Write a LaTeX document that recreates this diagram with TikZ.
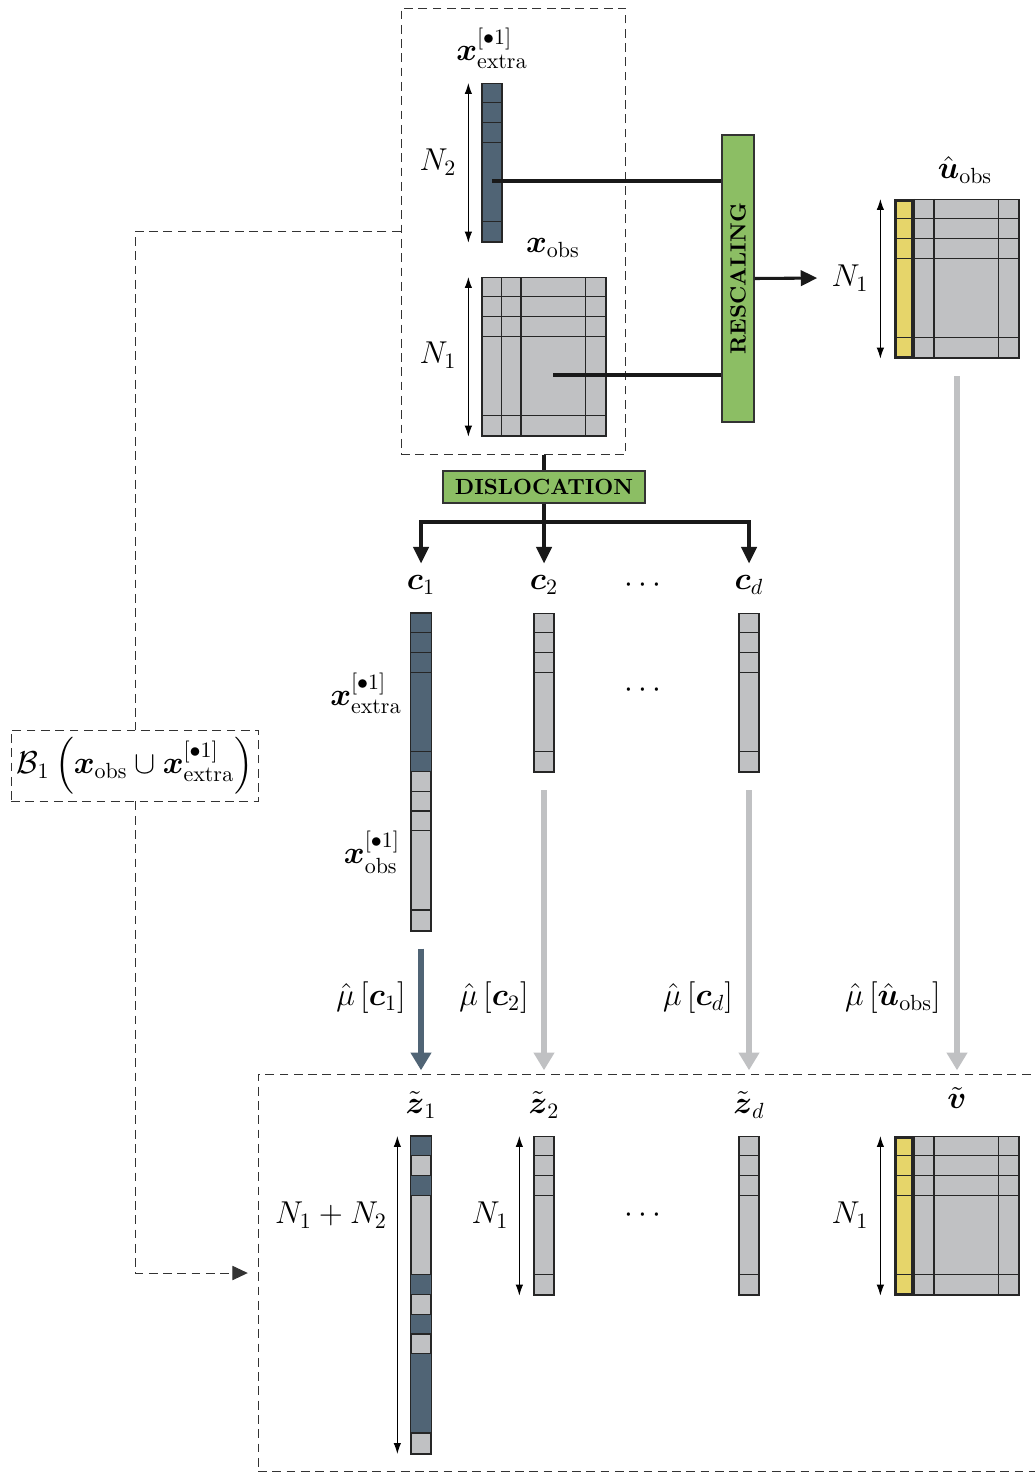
\documentclass[tikz,border=0pt]{standalone}
\usepackage{tikz}
\usepackage{xcolor}
\usepackage{amsmath}
\usetikzlibrary{arrows.meta}
\usetikzlibrary{calc}

\definecolor{slate}{RGB}{80,100,117}
\definecolor{cellgray}{RGB}{192,193,195}
\definecolor{leafgreen}{RGB}{140,190,100}
\definecolor{mustard}{RGB}{230,213,106}

\tikzset{
  every node/.style={font=\Large},
  dashbox/.style={draw=black!80, dash pattern=on 4pt off 2.5pt, line width=0.45pt, inner sep=0pt},
  dashline/.style={black!80, dash pattern=on 4pt off 2.5pt, line width=0.45pt},
  colvec/.style={draw=black!85, fill=cellgray, line width=0.6pt, inner sep=0pt,
                 minimum width=0.32cm, minimum height=2.5344cm, anchor=north},
  longvec/.style={colvec, minimum height=5.0688cm},
  gridbox/.style={colvec, minimum width=1.984cm},
  gridline/.style={black!85, line width=0.6pt},
  dimarrow/.style={{Latex[length=5pt,width=3.4pt]}-{Latex[length=5pt,width=3.4pt]}, line width=0.45pt},
  feed/.style={black!90, line width=1.4pt},
  feedarrow/.style={feed, -{Triangle[length=7.5pt,width=7pt]}, shorten >=2pt},
  pushgray/.style={cellgray, line width=2.3pt, -{Triangle[length=8pt,width=9pt]}, shorten <=8pt, shorten >=1.5pt},
  pushslate/.style={pushgray, slate},
  stage/.style={draw=black!80, fill=leafgreen, line width=0.6pt, inner sep=0pt, font=\normalsize\bfseries},
}

\begin{document}
\begin{tikzpicture}[x=0.016cm, y=-0.016cm]
\useasboundingbox (0,0) rectangle (1035,1474);

% frames
\node[dashbox, minimum width=3.6cm, minimum height=7.152cm] (topbox) at (513.5,231.5) {};
\node[dashbox, minimum width=12.592cm, minimum height=6.368cm] (zbox) at (651.5,1273) {};
\node[dashbox, minimum width=3.968cm, minimum height=1.136cm] (bone) at (135,765.5)
     {$\mathcal{B}_1\left(\boldsymbol{x}_{\mathrm{obs}}\cup\boldsymbol{x}^{[\bullet 1]}_{\mathrm{extra}}\right)$};

% vectors and matrices
\node[colvec, fill=slate] (xe) at (492,83) {};
\node[gridbox] (xobs) at (544,277) {};
\node[gridbox] (uobs) at (957,199) {};
\node[longvec] (cone) at (421,613) {};
\node[colvec] (ctwo) at (544,613) {};
\node[colvec] (cd) at (749,613) {};
\node[longvec] (zone) at (421,1136) {};
\node[colvec] (ztwo) at (544,1136) {};
\node[colvec] (zd) at (749,1136) {};
\node[gridbox] (v) at (957,1136) {};

% dark blocks
\fill[slate] (cone.north west) rectangle ($(cone.north east)+(0,158.4)$);
\foreach \a/\b in {0/1,2/3,7/8,9/10,11/15}
  \fill[slate] ($(zone.north west)+(0,\a*19.8)$) rectangle ($(zone.north east)+(0,\b*19.8)$);
\foreach \m in {uobs,v}
  \fill[mustard] (\m.north west) rectangle ($(\m.south west)+(19.8,0)$);

% cell lines
\foreach \n in {xe,xobs,uobs,ctwo,cd,ztwo,zd,v}
  \foreach \k in {1,2,3,7}
    \draw[gridline] ($(\n.north west)+(0,\k*19.8)$) -- ($(\n.north east)+(0,\k*19.8)$);
\foreach \n in {cone,zone}
  \foreach \k in {1,2,3,7,8,9,10,11,15}
    \draw[gridline] ($(\n.north west)+(0,\k*19.8)$) -- ($(\n.north east)+(0,\k*19.8)$);
\foreach \m in {xobs,uobs,v}
  \foreach \d in {19.8,39.6,104}
    \draw[gridline] ($(\m.north west)+(\d,0)$) -- ($(\m.south west)+(\d,0)$);
\foreach \n in {cone,zone}
  \draw[gridline] (\n.north west) rectangle (\n.south east);
\foreach \m in {uobs,v}
  \draw[black!85, line width=1.4pt] ($(\m.north west)+(1.5,1.5)$) rectangle ($(\m.south west)+(18.3,-1.5)$);

% sizes
\draw[dimarrow] ($(xe.north west)+(-13,0)$) -- ($(xe.south west)+(-13,0)$);
\draw[dimarrow] ($(xobs.north west)+(-13,0)$) -- ($(xobs.south west)+(-13,0)$);
\draw[dimarrow] ($(uobs.north west)+(-14,0)$) -- ($(uobs.south west)+(-14,0)$);
\draw[dimarrow] ($(zone.north west)+(-13,0)$) -- ($(zone.south west)+(-13,0)$);
\draw[dimarrow] ($(ztwo.north west)+(-14,0)$) -- ($(ztwo.south west)+(-14,0)$);
\draw[dimarrow] ($(v.north west)+(-14,0)$) -- ($(v.south west)+(-14,0)$);
\node (nxe) at (438,162) {$N_2$};
\node (nxobs) at (438,355) {$N_1$};
\node (nuobs) at (850,278) {$N_1$};
\node (nzone) at (331,1215) {$N_1+N_2$};
\node (nztwo) at (490,1215) {$N_1$};
\node (nv) at (850,1215) {$N_1$};

% labels
\node (lxe) at (492,48) {$\boldsymbol{x}^{[\bullet 1]}_{\mathrm{extra}}$};
\node (lxobs) at (553,248) {$\boldsymbol{x}_{\mathrm{obs}}$};
\node (luobs) at (965,170) {$\hat{\boldsymbol{u}}_{\mathrm{obs}}$};
\node (lcone) at (421,585) {$\boldsymbol{c}_1$};
\node (lctwo) at (544,585) {$\boldsymbol{c}_2$};
\node (ldotsa) at (646,585) {$\cdots$};
\node (lcd) at (749,585) {$\boldsymbol{c}_d$};
\node (ldotsb) at (646,690) {$\cdots$};
\node (lpartx) at (366,693) {$\boldsymbol{x}^{[\bullet 1]}_{\mathrm{extra}}$};
\node (lparto) at (372,852) {$\boldsymbol{x}^{[\bullet 1]}_{\mathrm{obs}}$};
\node (mone) at (371,998) {$\hat{\mu}\left[\boldsymbol{c}_1\right]$};
\node (mtwo) at (494,998) {$\hat{\mu}\left[\boldsymbol{c}_2\right]$};
\node (md) at (698,998) {$\hat{\mu}\left[\boldsymbol{c}_d\right]$};
\node (mu) at (893,998) {$\hat{\mu}\left[\hat{\boldsymbol{u}}_{\mathrm{obs}}\right]$};
\node (lzone) at (421,1105) {$\tilde{\boldsymbol{z}}_1$};
\node (lztwo) at (544,1105) {$\tilde{\boldsymbol{z}}_2$};
\node (lzd) at (749,1105) {$\tilde{\boldsymbol{z}}_d$};
\node (lv) at (957,1098) {$\tilde{\boldsymbol{v}}$};
\node (ldotsc) at (646,1215) {$\cdots$};

% operations
\node[stage, minimum width=0.512cm, minimum height=4.592cm] (rescale) at (738,278.5) {\rotatebox{90}{RESCALING}};
\node[stage, minimum width=3.232cm, minimum height=0.512cm] (disl) at (544,487) {DISLOCATION};
\coordinate (xeport) at (492,181);
\coordinate (xoport) at (553,375);
\coordinate (split) at (544,522);
\draw[feed] (xeport) -- (xeport -| rescale.west);
\draw[feed] (xoport) -- (xoport -| rescale.west);
\draw[feedarrow, shorten >=3pt] (rescale.east) -- (nuobs.west);
\draw[feed] (disl.north |- topbox.south) -- (disl.north);
\draw[feed] (disl.south) -- (split);
\draw[feedarrow] (split) -| (lcone.north);
\draw[feedarrow] (split) -- (lctwo.north);
\draw[feedarrow] (split) -| (lcd.north);

% mappings
\draw[pushslate] (cone.south) -- (cone.south |- zbox.north);
\draw[pushgray] (ctwo.south) -- (ctwo.south |- zbox.north);
\draw[pushgray] (cd.south) -- (cd.south |- zbox.north);
\draw[pushgray] (uobs.south) -- (uobs.south |- zbox.north);

% basis link
\draw[dashline] (topbox.west) -| (bone.north);
\draw[dashline, -{Triangle[length=7pt,width=6.5pt]}, shorten >=4.5pt] (bone.south) |- (zbox.west);
\end{tikzpicture}
\end{document}
